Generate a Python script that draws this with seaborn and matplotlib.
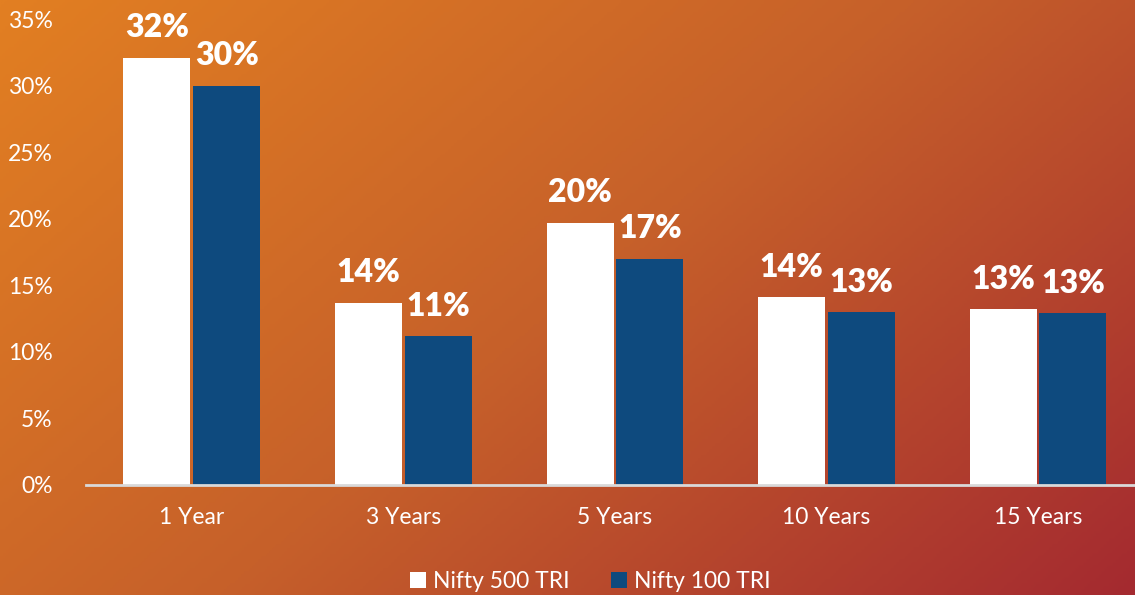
import numpy as np
import pandas as pd
import matplotlib.pyplot as plt
import seaborn as sns
from matplotlib.colors import LinearSegmentedColormap
from matplotlib.patches import Patch

# Chart data
periods = ['1 Year', '3 Years', '5 Years', '10 Years', '15 Years']
nifty500 = [32.1, 13.7, 19.7, 14.1, 13.2]
nifty100 = [30.0, 11.2, 17.0, 13.0, 12.9]
series_names = ['Nifty 500 TRI', 'Nifty 100 TRI']
colors = ['#ffffff', '#0e4a7e']

df = pd.DataFrame({
    'Period': periods * 2,
    'Return': nifty500 + nifty100,
    'Index': [series_names[0]] * 5 + [series_names[1]] * 5,
})

sns.set_style('white')
plt.rcParams['font.family'] = ['Lato', 'DejaVu Sans']

fig = plt.figure(figsize=(11.35, 5.95), dpi=100)

# gradient background (orange top-left -> dark red bottom-right)
bg = fig.add_axes([0, 0, 1, 1], zorder=-1)
xx, yy = np.meshgrid(np.linspace(0, 1, 400), np.linspace(0, 1, 200))
grad = 0.62 * xx + 0.38 * yy
cmap = LinearSegmentedColormap.from_list('bg', ['#e27f22', '#c6602a', '#a42a30'])
bg.imshow(grad, cmap=cmap, aspect='auto', extent=[0, 1, 0, 1], origin='upper')
bg.axis('off')

ax = fig.add_axes([0.0758, 0.185, 0.932, 0.783])
ax.set_facecolor('none')

sns.barplot(data=df, x='Period', y='Return', hue='Index', palette=colors,
            width=0.66, gap=0.04, ax=ax, legend=False, saturation=1,
            linewidth=0, edgecolor='none')

for cont in ax.containers:
    ax.bar_label(cont, labels=[f'{v:.0f}%' for v in cont.datavalues],
                 padding=11, color='white', fontsize=23, fontweight='heavy')

ax.set_xlim(-0.5, 4.5)
ax.set_ylim(0, 35)
ax.set_yticks(range(0, 36, 5))
ax.set_yticklabels([f'{t}%' for t in range(0, 36, 5)])
ax.tick_params(axis='both', colors='white', labelsize=16.5, length=0)
ax.tick_params(axis='x', pad=16)
ax.tick_params(axis='y', pad=24)
ax.set_xlabel('')
ax.set_ylabel('')
for s in ['top', 'right', 'left']:
    ax.spines[s].set_visible(False)
ax.spines['bottom'].set_color('#d9d9d9')
ax.spines['bottom'].set_linewidth(2)

handles = [Patch(facecolor=c, edgecolor='none') for c in colors]
fig.legend(handles, series_names, loc='center', bbox_to_anchor=(0.52, 0.022),
           ncol=2, frameon=False, fontsize=16.5, labelcolor='white',
           handlelength=0.7, handleheight=0.7, handletextpad=0.3,
           columnspacing=1.8)

fig.savefig('out.png', dpi=100)
